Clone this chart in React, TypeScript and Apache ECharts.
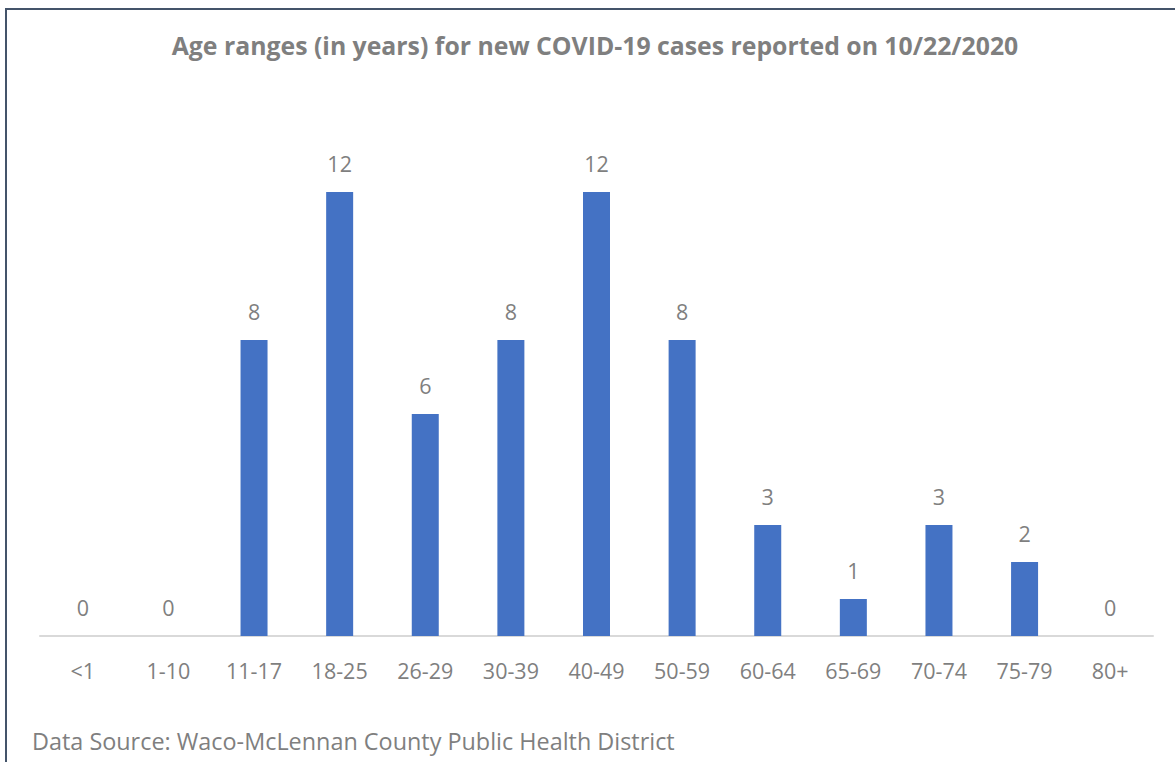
import React, { useEffect, useRef } from "react";
import * as echarts from "echarts";

const categories = ["<1", "1-10", "11-17", "18-25", "26-29", "30-39", "40-49", "50-59", "60-64", "65-69", "70-74", "75-79", "80+"];
const cases = [0, 0, 8, 12, 6, 8, 12, 8, 3, 1, 3, 2, 0];
const titleText = "Age ranges (in years) for new COVID-19 cases reported on 10/22/2020";
const sourceText = "Data Source: Waco-McLennan County Public Health District";

const FONT = "'Open Sans', 'Noto Sans', sans-serif";

export default function App() {
  const ref = useRef<HTMLDivElement>(null);
  useEffect(() => {
    if (!ref.current) return;
    const chart = echarts.init(ref.current, null, { renderer: "svg" });
    chart.setOption({
      animation: false,
      backgroundColor: "#ffffff",
      grid: { left: 40, right: 22, top: 192, bottom: 126, containLabel: false },
      xAxis: {
        type: "category",
        data: categories,
        axisLine: { show: true, lineStyle: { color: "#d9d9d9", width: 2 } },
        axisTick: { show: false },
        axisLabel: { color: "#7f7f7f", fontSize: 21.5, fontFamily: FONT, margin: 23, interval: 0 },
      },
      yAxis: {
        type: "value",
        min: 0,
        max: 12,
        show: false,
        splitLine: { show: false },
      },
      series: [
        {
          type: "bar",
          data: cases,
          barWidth: 27,
          itemStyle: { color: "#4472c4" },
          label: {
            show: true,
            position: "top",
            distance: 18,
            color: "#7f7f7f",
            fontSize: 21.5,
            fontFamily: FONT,
          },
        },
      ],
      graphic: [
        {
          type: "rect",
          shape: { x: 6, y: 9, width: 1200, height: 800 },
          style: { fill: "none", stroke: "#44546a", lineWidth: 2 },
          silent: true,
        },
        {
          type: "text",
          x: 595,
          y: 45,
          style: {
            text: titleText,
            fill: "#7f7f7f",
            font: `bold 24.8px ${FONT}`,
            textAlign: "center",
            textVerticalAlign: "middle",
          },
        },
        {
          type: "text",
          x: 32,
          y: 741,
          style: {
            text: sourceText,
            fill: "#7f7f7f",
            font: `23.4px ${FONT}`,
            textAlign: "left",
            textVerticalAlign: "middle",
          },
        },
      ],
    });
    return () => chart.dispose();
  }, []);
  return (
    <div
      ref={ref}
      style={{ position: "absolute", left: 0, top: 0, width: 1175, height: 762, background: "#fff" }}
    />
  );
}
